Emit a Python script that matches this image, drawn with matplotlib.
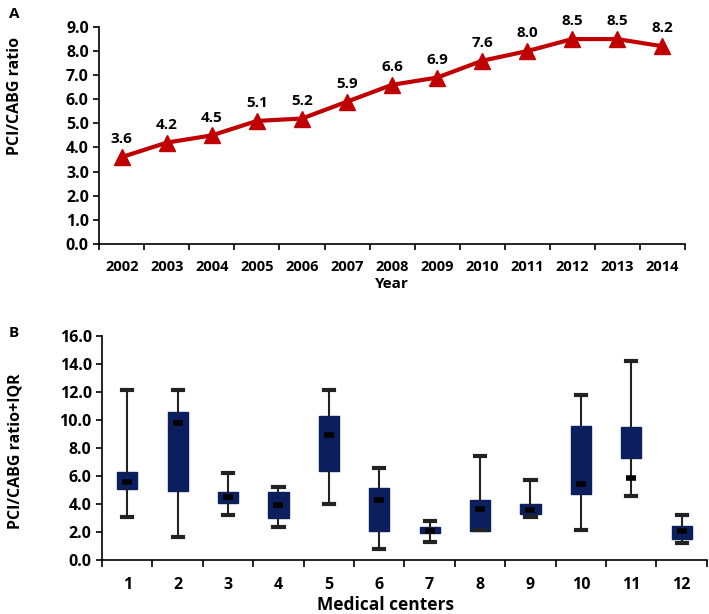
import matplotlib.pyplot as plt
import numpy as np

plt.rcParams['font.family'] = ['Open Sans', 'DejaVu Sans']
plt.rcParams['font.weight'] = 'bold'

### Data
years = ['2002', '2003', '2004', '2005', '2006', '2007', '2008',
         '2009', '2010', '2011', '2012', '2013', '2014']
ratio = [3.6, 4.2, 4.5, 5.1, 5.2, 5.9, 6.6, 6.9, 7.6, 8.0, 8.5, 8.5, 8.2]

centers = ['1', '2', '3', '4', '5', '6', '7', '8', '9', '10', '11', '12']
whis_hi = [12.1, 12.1, 6.2, 5.2, 12.1, 6.6, 2.8, 7.4, 5.7, 11.8, 14.2, 3.2]
q3 = [6.3, 10.55, 4.85, 4.85, 10.25, 5.15, 2.35, 4.25, 4.0, 9.6, 9.5, 2.4]
median = [5.6, 9.8, 4.5, 3.9, 8.95, 4.25, 2.05, 3.65, 3.55, 5.4, 5.85, 2.05]
q1 = [5.1, 4.95, 4.1, 3.0, 6.35, 2.1, 1.9, 2.05, 3.25, 4.7, 7.25, 1.5]
whis_lo = [3.1, 1.65, 3.2, 2.35, 4.0, 0.8, 1.3, 2.15, 3.1, 2.15, 4.6, 1.2]

RED = '#c00000'
NAVY = '#0b1f5e'

fig = plt.figure(figsize=(7.09, 6.14), dpi=100)

### Panel A
axA = fig.add_axes([0.140, 0.603, 0.826, 0.353])
x = np.arange(len(years))
axA.plot(x, ratio, color=RED, lw=3, marker='^', ms=11, mfc=RED, mec=RED)
for xi, v in zip(x, ratio):
    axA.text(xi, v + 0.45, '%.1f' % v, ha='center', va='bottom',
             fontsize=11, fontweight='bold')
axA.set_xlim(-0.5, len(years) - 0.5)
axA.set_ylim(0, 9)
axA.set_yticks(np.arange(0, 9.1, 1.0))
axA.set_yticklabels(['%.1f' % t for t in np.arange(0, 9.1, 1.0)])
axA.set_xticks(x)
axA.set_xticklabels(years)
axA.set_xticks(np.arange(-0.5, len(years), 1), minor=True)
axA.tick_params(axis='x', which='major', length=0, pad=12, labelsize=10.5)
axA.tick_params(axis='x', which='minor', length=4, width=1.2)
axA.tick_params(axis='y', length=4, width=1.2, labelsize=11.5)
for s in ['top', 'right']:
    axA.spines[s].set_visible(False)
for s in ['left', 'bottom']:
    axA.spines[s].set_linewidth(1.2)
axA.set_ylabel('PCI/CABG ratio', fontsize=11.5, fontweight='bold')
axA.yaxis.set_label_coords(-0.13, 0.68)
axA.set_xlabel('Year', fontsize=11, fontweight='bold', labelpad=2)
fig.text(0.012, 0.978, 'A', fontsize=11, fontweight='bold', va='center')

### Panel B
axB = fig.add_axes([0.144, 0.088, 0.853, 0.365])
pos = np.arange(1, len(centers) + 1)
stats = []
for i in range(len(centers)):
    stats.append(dict(med=median[i], q1=q1[i], q3=q3[i],
                      whislo=whis_lo[i], whishi=whis_hi[i], label=centers[i]))
axB.bxp(stats, positions=pos, widths=0.4, capwidths=0.2, patch_artist=True,
        showfliers=False,
        boxprops=dict(facecolor=NAVY, edgecolor=NAVY, linewidth=1),
        whiskerprops=dict(color='#222222', linewidth=1.5),
        capprops=dict(color='#222222', linewidth=3),
        medianprops=dict(linewidth=0))
axB.scatter(pos, median, marker='_', s=55, linewidths=4, color='black', zorder=5)
axB.set_xlim(0.5, len(centers) + 0.5)
axB.set_ylim(0, 16)
yt = np.arange(0, 16.1, 2.0)
axB.set_yticks(yt)
axB.set_yticklabels(['%.1f' % t for t in yt])
axB.set_xticks(pos)
axB.set_xticklabels(centers)
axB.set_xticks(np.arange(0.5, len(centers) + 1, 1), minor=True)
axB.tick_params(axis='x', which='major', length=0, pad=12, labelsize=11.5)
axB.tick_params(axis='x', which='minor', length=5, width=1.2)
axB.tick_params(axis='y', length=4, width=1.2, labelsize=11.5)
for s in ['top', 'right']:
    axB.spines[s].set_visible(False)
for s in ['left', 'bottom']:
    axB.spines[s].set_linewidth(1.2)
axB.set_ylabel('PCI/CABG ratio+IQR', fontsize=11.5, fontweight='bold')
axB.yaxis.set_label_coords(-0.13, 0.484)
axB.set_xlabel('Medical centers', fontsize=12.5, fontweight='bold')
axB.xaxis.set_label_coords(0.468, -0.16)
fig.text(0.012, 0.458, 'B', fontsize=11, fontweight='bold', va='center')

fig.savefig('out.png', dpi=100)
